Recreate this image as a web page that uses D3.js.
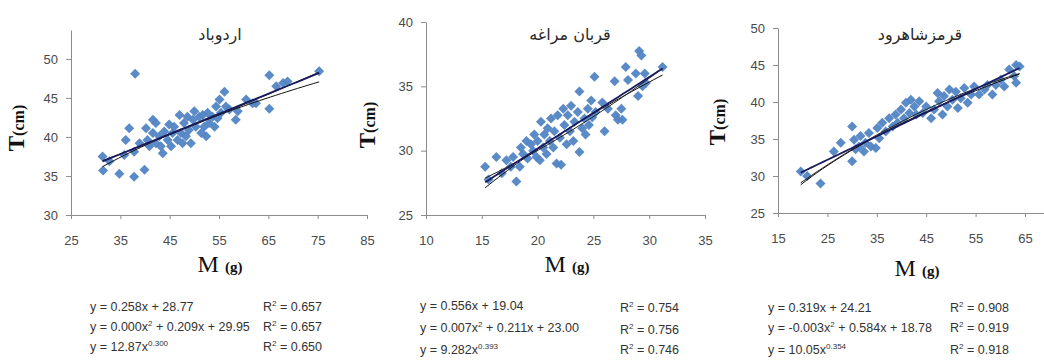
<!DOCTYPE html>
<html>
<head>
<meta charset="utf-8">
<script src="https://cdn.jsdelivr.net/npm/d3@7"></script>
<style>
body{margin:0;background:#fff;}
.tick text{font-family:"Liberation Sans",Arial,sans-serif;font-size:13px;fill:#4a4a4a;}
</style>
</head>
<body>
<svg id="chart" width="1044" height="362"></svg>
<script>
// panel titles
var titles = ["اردوباد", "قربان مراغه", "قرمزشاهرود"];

// اردوباد : M (g) / T (cm)
var ardM = [31.4,31.5,32.8,34.8,35.8,36.1,36.8,37.8,37.8,38.0,38.9,39.9,40.2,40.5,40.9,41.6,41.6,42.2,42.2,42.9,43.2,43.6,43.9,44.6,44.9,45.3,45.6,45.9,46.6,47.0,47.3,47.6,47.9,48.3,48.6,48.9,49.3,49.7,50.0,50.3,51.0,51.4,51.7,52.0,52.4,52.7,53.0,53.7,54.1,54.4,54.7,55.1,55.4,56.1,56.4,57.1,58.4,58.8,60.5,61.8,62.5,65.2,65.2,66.6,68.0,68.9,75.3];
var ardT = [37.5,35.7,36.9,35.3,37.7,39.6,41.1,38.1,34.9,48.1,39.2,35.8,41.1,39.6,38.8,42.2,40.5,39.2,41.8,40.1,38.8,37.9,40.7,39.6,41.6,38.8,40.5,41.3,39.6,42.8,40.5,39.2,41.8,40.1,42.6,40.9,39.2,42.2,43.3,41.3,42.6,40.5,42.8,41.3,40.1,43.1,41.8,42.6,41.3,43.9,42.4,44.8,43.1,45.8,43.9,43.5,42.2,43.3,44.8,44.3,44.3,47.9,43.6,46.5,46.9,47.1,48.4];

// قربان مراغه
var qmM = [15.3,15.6,16.3,16.8,17.2,17.6,17.8,18.1,18.4,18.5,18.7,19.0,19.1,19.4,19.6,19.7,19.9,20.0,20.2,20.3,20.5,20.6,20.8,20.9,21.1,21.2,21.4,21.5,21.7,21.8,22.0,22.1,22.3,22.4,22.6,22.7,22.9,23.0,23.2,23.3,23.6,23.75,23.75,24.0,24.2,24.3,24.5,24.6,24.8,24.9,25.1,25.2,25.8,26.0,26.3,26.9,27.0,27.2,27.5,27.6,27.9,28.1,28.8,29.0,29.1,29.3,29.4,29.6,29.7,31.2];
var qmT = [28.75,27.75,29.5,28.25,29.25,28.75,29.5,27.6,28.75,30.25,29.75,30.75,29.4,30.5,30.0,31.25,29.5,30.75,29.25,32.25,30.25,31.25,29.75,31.75,30.75,32.5,30.25,31.5,29.0,32.75,31.0,28.9,33.25,32.0,30.5,32.75,31.5,33.5,30.75,32.25,33.0,29.9,34.6,31.75,32.5,31.25,33.25,32.0,33.9,32.6,35.75,33.0,33.75,31.5,33.25,35.4,32.75,32.4,33.25,32.4,36.5,35.5,36.0,34.25,37.75,37.4,35.0,36.0,35.25,36.5];

// قرمزشاهرود
var qsM = [19.6,20.9,23.6,26.3,27.7,30.0,30.0,30.4,30.7,31.4,31.7,32.4,32.7,33.4,33.8,34.8,35.1,35.5,36.1,36.8,37.5,38.2,38.8,39.2,39.9,40.5,40.9,41.6,41.9,42.6,43.0,43.6,44.3,45.0,46.0,46.6,47.3,47.6,48.3,48.6,49.3,49.7,50.3,51.0,51.4,52.0,52.7,53.4,54.1,54.7,55.7,56.8,57.4,58.4,59.1,60.1,60.8,61.8,62.8,63.2,63.2,63.9];
var qsT = [30.6,30.0,29.0,33.3,34.5,36.7,32.0,34.9,33.6,34.0,35.4,33.3,34.5,35.8,34.0,33.8,36.5,35.1,37.2,36.0,37.8,36.7,38.3,37.2,39.0,37.8,39.9,38.5,40.3,39.4,38.3,40.1,38.5,39.4,37.8,39.0,41.2,40.1,38.3,40.8,39.4,41.7,40.3,41.4,39.2,40.5,41.9,39.9,41.0,42.1,41.0,41.7,42.3,41.0,42.3,43.0,42.1,44.4,43.5,45.0,42.6,44.8];

// trend lines (linear, polynomial, power); the x² of the first panel is shown rounded as 0.000
var linCoef = [[0.258, 28.77], [0.556, 19.04], [0.319, 24.21]];
var polyCoef = [[0.00046, 0.209, 29.95], [0.007, 0.211, 23.00], [-0.003, 0.584, 18.78]];
var powCoef = [[12.87, 0.300], [9.282, 0.393], [10.05, 0.354]];

var eqText = [
  ["y = 0.258x + 28.77", "y = 0.000x^2 + 0.209x + 29.95", "y = 12.87x^0.300"],
  ["y = 0.556x + 19.04", "y = 0.007x^2 + 0.211x + 23.00", "y = 9.282x^0.393"],
  ["y = 0.319x + 24.21", "y = -0.003x^2 + 0.584x + 18.78", "y = 10.05x^0.354"]
];
var r2Text = [
  ["0.657", "0.657", "0.650"],
  ["0.754", "0.756", "0.746"],
  ["0.908", "0.919", "0.918"]
];

var data = [[ardM, ardT], [qmM, qmT], [qsM, qsT]];

var layout = [
  {xr:[71,367], xd:[25,85], xt:[25,35,45,55,65,75,85], yr:[215,30], yd:[30,53.7], yt:[30,35,40,45,50],
   title:[220,40], ylab:[18,128], xlab:[220,272], eqX:[90,263], eqY:[311,331,351], rY:[311,331,351]},
  {xr:[426,705], xd:[10,35], xt:[10,15,20,25,30,35], yr:[215,22], yd:[25,40], yt:[25,30,35,40],
   title:[570,40], ylab:[369,125], xlab:[567,272], eqX:[420,620], eqY:[310,332,354], rY:[312,334,354]},
  {xr:[778,1074.4], xd:[15,75], xt:[15,25,35,45,55,65], yr:[213,28], yd:[25,50], yt:[25,30,35,40,45,50],
   title:[920,40], ylab:[719,122], xlab:[917,276], eqX:[768,950], eqY:[312,332,354], rY:[312,332,354]}
];

var svg = d3.select("#chart");
var serif = "'Liberation Serif','Times New Roman',serif";
var calib = "'Liberation Sans Narrow','Liberation Sans',Arial,sans-serif";

function eqLine(g, str, x, y) {
  var t = g.append("text").attr("x", x).attr("y", y)
    .attr("font-family", calib).attr("font-size", "12.5px").attr("fill", "#333");
  var parts = str.split(/\^(\S+)/);
  var lift = 0;
  parts.forEach(function(p, i) {
    if (p === "") return;
    if (i % 2 === 1) {
      t.append("tspan").attr("dy", -5).attr("font-size", "8px").text(p);
      lift = 5;
    } else {
      t.append("tspan").attr("dy", lift).text(p);
      lift = 0;
    }
  });
}

layout.forEach(function(L, k) {
  var g = svg.append("g");
  var x = d3.scaleLinear().domain(L.xd).range(L.xr);
  var y = d3.scaleLinear().domain(L.yd).range(L.yr);
  var xs = data[k][0], ys = data[k][1];

  g.append("g").attr("transform", "translate(0," + L.yr[0] + ")")
    .call(d3.axisBottom(x).tickValues(L.xt).tickSize(4).tickSizeOuter(0).tickPadding(17));
  g.append("g").attr("transform", "translate(" + L.xr[0] + ",0)")
    .call(d3.axisLeft(y).tickValues(L.yt).tickSize(5).tickSizeOuter(0).tickPadding(8));
  g.selectAll(".domain").attr("stroke", "#8c8c8c");
  g.selectAll(".tick line").attr("stroke", "#8c8c8c");

  // points
  var sym = d3.symbol().type(d3.symbolSquare).size(50);
  g.append("g").selectAll("path").data(xs).join("path")
    .attr("d", sym)
    .attr("transform", function(d, i) { return "translate(" + x(d) + "," + y(ys[i]) + ") rotate(45)"; })
    .attr("fill", "#5285c4").attr("fill-opacity", 0.95);

  // trend lines over the data range
  var lo = d3.min(xs), hi = d3.max(xs);
  var grid = d3.range(0, 41).map(function(i) { return lo + (hi - lo) * i / 40; });
  var line = d3.line().x(function(d) { return x(d[0]); }).y(function(d) { return y(d[1]); });
  var lc = linCoef[k], pc = polyCoef[k], wc = powCoef[k];
  var fits = [
    {f: function(v) { return wc[0] * Math.pow(v, wc[1]); }, c: "#111", w: 1},
    {f: function(v) { return pc[0] * v * v + pc[1] * v + pc[2]; }, c: "#222", w: 1},
    {f: function(v) { return lc[0] * v + lc[1]; }, c: "#1a1a5e", w: 1.8}
  ];
  fits.forEach(function(F) {
    g.append("path").datum(grid.map(function(v) { return [v, F.f(v)]; }))
      .attr("d", line).attr("fill", "none").attr("stroke", F.c).attr("stroke-width", F.w);
  });

  // title
  g.append("text").attr("x", L.title[0]).attr("y", L.title[1]).attr("text-anchor", "middle")
    .attr("font-family", "'DejaVu Sans',sans-serif").attr("font-size", "16px").attr("fill", "#2a2a2a")
    .attr("direction", "rtl").text(titles[k]);

  // y label
  var yl = g.append("text").attr("text-anchor", "middle")
    .attr("transform", "translate(" + L.ylab[0] + "," + L.ylab[1] + ") rotate(-90)")
    .attr("dy", "0.35em").attr("font-family", serif).attr("font-weight", "bold").attr("fill", "#111");
  yl.append("tspan").attr("font-size", "23px").text("T");
  yl.append("tspan").attr("font-size", "16px").text("(cm)");

  // x label
  var xl = g.append("text").attr("x", L.xlab[0]).attr("y", L.xlab[1]).attr("text-anchor", "middle")
    .attr("font-family", serif).attr("fill", "#111");
  xl.append("tspan").attr("font-size", "24px").text("M ");
  xl.append("tspan").attr("font-size", "15px").attr("font-weight", "bold").text("(g)");

  // equations
  eqText[k].forEach(function(s, i) {
    eqLine(svg, s, L.eqX[0], L.eqY[i]);
    eqLine(svg, "R^2 = " + r2Text[k][i], L.eqX[1], L.rY[i]);
  });
});
</script>
</body>
</html>
